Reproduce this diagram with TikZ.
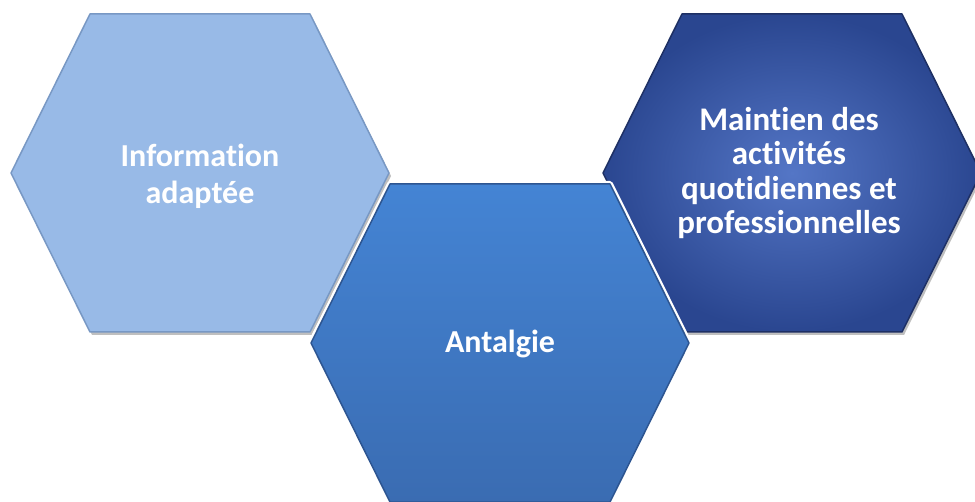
\documentclass[tikz,border=0pt]{standalone}
\usepackage{fontspec}
\setmainfont[Ligatures={NoCommon}]{Carlito}
\definecolor{hexA}{RGB}{152,186,231}
\definecolor{hexAd}{RGB}{120,152,196}
\definecolor{hexBt}{RGB}{68,132,212}
\definecolor{hexBb}{RGB}{58,108,178}
\definecolor{hexBd}{RGB}{45,85,145}
\definecolor{hexCi}{RGB}{84,118,198}
\definecolor{hexCo}{RGB}{42,70,144}
\definecolor{hexCd}{RGB}{30,48,100}
\tikzset{
  hexlabel/.style={text=white, font=\fontsize{32}{37}\selectfont\bfseries, align=center},
  hexshadow/.style={fill=black, opacity=0.25},
}
\newcommand{\hexat}[2]{(#1-189,#2) -- (#1-110,#2-159) -- (#1+110,#2-159) -- (#1+189,#2) -- (#1+110,#2+159) -- (#1-110,#2+159) -- cycle}
\begin{document}
\begin{tikzpicture}[x=1pt,y=-1pt]
\useasboundingbox[fill=white] (0,0) rectangle (975,502);
% Hexagon 1
\fill[hexshadow] [shift={(2,3)}] \hexat{200}{173};
\fill[hexA] \hexat{200}{173};
\draw[hexAd, line width=1.5pt, line join=round] \hexat{200}{173};
\node[hexlabel] (info) at (200,176) {Information\\adaptée};
% Hexagon 3
\fill[hexshadow] [shift={(2,3)}] \hexat{792}{173};
\shade[inner color=hexCi, outer color=hexCo] \hexat{792}{173};
\draw[hexCd, line width=1.5pt, line join=round] \hexat{792}{173};
\node[hexlabel, font=\fontsize{33}{34.5}\selectfont\bfseries] (maint) at (789,173) {Maintien des\\activités\\quotidiennes et\\professionnelles};
% Hexagon 2
\fill[white] \hexat{500}{343};
\draw[white, line width=6pt, line join=round] \hexat{500}{343};
\shade[top color=hexBt, bottom color=hexBb] \hexat{500}{343};
\draw[hexBd, line width=1.5pt, line join=round] \hexat{500}{343};
\node[hexlabel] (antal) at (500,344) {Antalgie};
\end{tikzpicture}
\end{document}
